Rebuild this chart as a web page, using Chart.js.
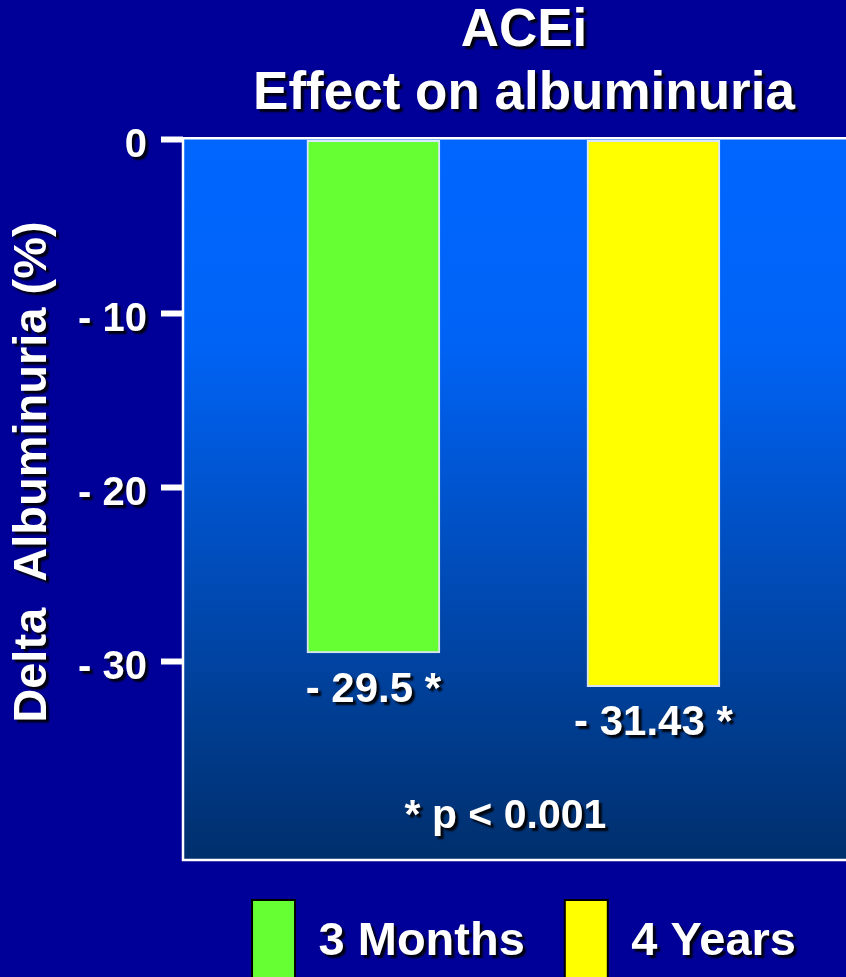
<!DOCTYPE html>
<html>
<head>
<meta charset="utf-8">
<script src="https://cdn.jsdelivr.net/npm/chart.js@4/dist/chart.umd.min.js"></script>
<style>
  html, body { margin: 0; padding: 0; background: #000099; overflow: hidden; }
  #wrap { width: 1048px; height: 994px; }
  canvas { display: block; }
</style>
</head>
<body>
<div id="wrap"><canvas id="c" width="1048" height="994"></canvas></div>
<script>
// Chart content
const TITLE_LINES = ['ACEi', 'Effect on albuminuria'];
const Y_TITLE = 'Delta  Albuminuria (%)';
const SERIES_NAMES = ['3 Months', '4 Years'];
const SERIES_X = [1, 2];
const SERIES_VALUES = [-29.5, -31.43];
const SERIES_COLORS = ['#66ff33', '#ffff00'];
const Y_TICKS = [0, -10, -20, -30];
const FOOTNOTE = '* p < 0.001';

const FONT = 'Liberation Sans, Arial, sans-serif';
Chart.defaults.font.family = FONT;

const canvas = document.getElementById('c');
const ctx = canvas.getContext('2d');

// Every piece of text gets the slide-style drop shadow
const baseFillText = ctx.fillText;
ctx.fillText = function (...args) {
  this.save();
  this.shadowColor = 'rgba(0,0,0,0.9)';
  this.shadowOffsetX = 3;
  this.shadowOffsetY = 3;
  this.shadowBlur = 2;
  baseFillText.apply(this, args);
  this.restore();
};

const negLabel = v => (v === 0 ? '0' : '- ' + Math.abs(v));

// Slide background and the gradient plot panel
const panel = {
  id: 'panel',
  beforeDraw(chart) {
    const { ctx, chartArea: a, width, height } = chart;
    ctx.save();
    ctx.fillStyle = '#000099';
    ctx.fillRect(0, 0, width, height);
    const g = ctx.createLinearGradient(0, a.top, 0, a.bottom);
    g.addColorStop(0, '#0066ff');
    g.addColorStop(0.28, '#0063f6');
    g.addColorStop(1, '#002f6c');
    ctx.fillStyle = g;
    ctx.fillRect(a.left, a.top, a.right - a.left, a.bottom - a.top);
    ctx.restore();
  },
  afterDatasetsDraw(chart) {
    const { ctx, chartArea: a } = chart;
    ctx.save();
    // panel frame: top, left and bottom edges
    ctx.strokeStyle = '#ffffff';
    ctx.lineWidth = 2.5;
    ctx.beginPath();
    ctx.moveTo(a.right + 2, a.top);
    ctx.lineTo(a.left, a.top);
    ctx.lineTo(a.left, a.bottom);
    ctx.lineTo(a.right + 2, a.bottom);
    ctx.stroke();

    ctx.fillStyle = '#ffffff';
    ctx.textAlign = 'center';
    ctx.textBaseline = 'middle';

    // value labels under each bar
    ctx.font = 'bold 42px ' + FONT;
    const xs = [];
    chart.data.datasets.forEach((ds, i) => {
      const el = chart.getDatasetMeta(i).data[0];
      xs.push(el.x);
      ctx.fillText(negLabel(SERIES_VALUES[i]) + ' *', el.x, el.y + 37);
    });

    // significance note
    ctx.font = 'bold 41px ' + FONT;
    ctx.fillText(FOOTNOTE, (xs[0] + xs[1]) / 2 - 8, a.bottom - 43);

    // vertical axis title
    ctx.font = 'bold 47px ' + FONT;
    ctx.translate(33, (a.top + a.bottom) / 2 - 27);
    ctx.rotate(-Math.PI / 2);
    ctx.fillText(Y_TITLE, 0, 0);
    ctx.restore();
  }
};

new Chart(canvas, {
  type: 'bar',
  data: {
    datasets: SERIES_NAMES.map((name, i) => ({
      label: name,
      data: [{ x: SERIES_X[i], y: SERIES_VALUES[i] }],
      backgroundColor: SERIES_COLORS[i],
      borderColor: 'rgba(255,255,255,0.85)',
      borderWidth: 2,
      borderSkipped: false,
      barThickness: 133,
      grouped: false
    }))
  },
  options: {
    responsive: false,
    animation: false,
    layout: { padding: 0 },
    scales: {
      x: {
        type: 'linear',
        min: 0.32,
        max: 3.409,
        offset: false,
        display: false
      },
      y: {
        min: -41.4,
        max: 0.1,
        afterFit(scale) { scale.width = 183; },
        afterBuildTicks(scale) { scale.ticks = Y_TICKS.map(v => ({ value: v })); },
        grid: {
          drawOnChartArea: false,
          drawTicks: true,
          tickLength: 22,
          tickWidth: 6,
          tickColor: '#ffffff',
          color: '#ffffff'
        },
        border: { display: false },
        ticks: {
          color: '#ffffff',
          font: { size: 40, weight: 'bold' },
          padding: 14,
          labelOffset: 6,
          callback: v => negLabel(v)
        }
      }
    },
    plugins: {
      title: {
        display: true,
        text: TITLE_LINES,
        color: '#ffffff',
        font: { size: 53, weight: 'bold', lineHeight: 1.19 },
        padding: { top: 0, bottom: 12 }
      },
      legend: {
        position: 'bottom',
        labels: {
          boxWidth: 43,
          boxHeight: 84,
          padding: 40,
          color: '#ffffff',
          font: { size: 47, weight: 'bold' },
          generateLabels(chart) {
            return chart.data.datasets.map((ds, i) => ({
              text: ds.label,
              fillStyle: ds.backgroundColor,
              strokeStyle: '#000000',
              lineWidth: 2,
              hidden: false,
              datasetIndex: i,
              fontColor: '#ffffff'
            }));
          }
        }
      },
      tooltip: { enabled: false }
    }
  },
  plugins: [panel]
});
</script>
</body>
</html>
